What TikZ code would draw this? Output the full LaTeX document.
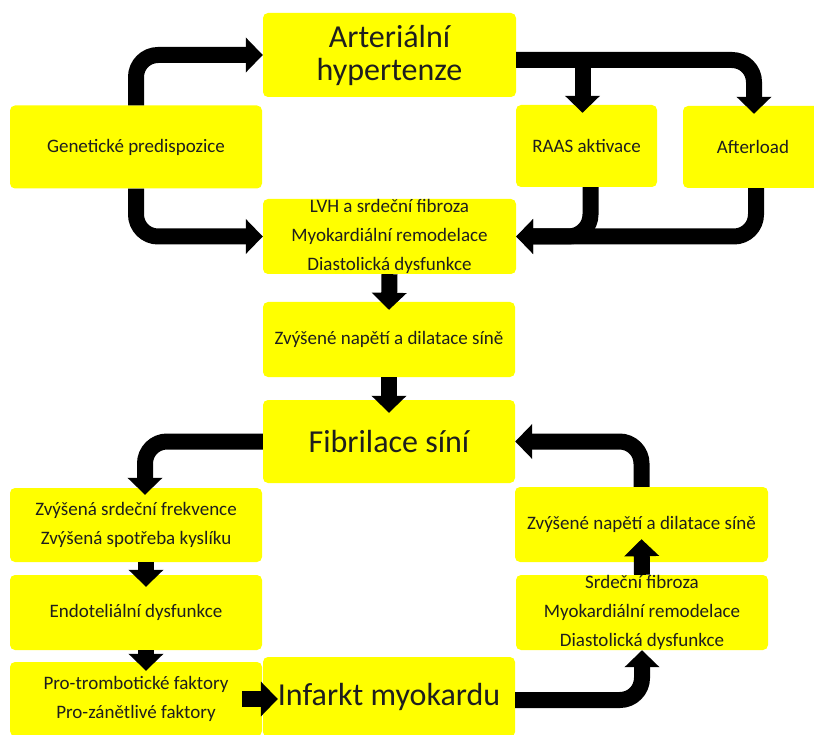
\documentclass[tikz,border=0pt]{standalone}
\usepackage{fontspec}
\setmainfont{Carlito}
\usepackage{xcolor}
\usetikzlibrary{positioning, arrows.meta}
\definecolor{boxyellow}{HTML}{FFFF00}
\definecolor{inktext}{HTML}{1E1E1E}

\begin{document}
\begin{tikzpicture}[x=1pt, y=-1pt,
  every node/.style={inner sep=0pt},
  box/.style={fill=boxyellow, rounded corners=5pt, align=center,
              text=inktext, font=\fontsize{19}{29}\selectfont},
  bigbox/.style={box, font=\fontsize{32}{33}\selectfont},
  flow/.style={line width=16pt, black, rounded corners=22pt,
               -{Triangle[width=34pt, length=17pt]}}]
\useasboundingbox (0,0) rectangle (814,735);

% upper part
\node[bigbox, minimum width=253pt, minimum height=84pt] (hyp) at (389.5,55)
  {Arteriální\\hypertenze};
\node[box, minimum width=252pt, minimum height=83pt] (gen) at (136,147)
  {Genetické predispozice};
\node[box, minimum width=141pt, minimum height=82pt] (raas) at (586.5,146)
  {RAAS aktivace};
\node[box, minimum width=140pt, minimum height=82pt] (after) at (753,147)
  {Afterload};
\node[box, minimum width=253pt, minimum height=75pt] (lvh) at (389.5,236.5)
  {LVH a srdeční fibroza\\Myokardiální remodelace\\Diastolická dysfunkce};
\node[box, minimum width=252pt, minimum height=75pt] (ten1) at (389,339.5)
  {Zvýšené napětí a dilatace síně};
\node[bigbox, minimum width=252pt, minimum height=83pt] (af) at (389,441.5)
  {Fibrilace síní};

% lower left
\node[box, minimum width=252pt, minimum height=74pt] (hr) at (136,525)
  {Zvýšená srdeční frekvence\\Zvýšená spotřeba kyslíku};
\node[box, minimum width=252pt, minimum height=75pt] (endo) at (136,612.5)
  {Endoteliální dysfunkce};
\node[box, minimum width=252pt, minimum height=74pt] (pro) at (136,699)
  {Pro-trombotické faktory\\Pro-zánětlivé faktory};
\node[bigbox, minimum width=252pt, minimum height=80pt] (inf) at (389,697)
  {Infarkt myokardu};

% lower right
\node[box, minimum width=253pt, minimum height=75pt] (ten2) at (641.5,524.5)
  {Zvýšené napětí a dilatace síně};
\node[box, minimum width=252pt, minimum height=75pt] (fib) at (642,612.5)
  {Srdeční fibroza\\Myokardiální remodelace\\Diastolická dysfunkce};

% arrows
\draw[flow] (gen.north) |- (hyp.west);
\draw[flow] (gen.south) |- (lvh.west);
\draw[flow] ([yshift=-5pt]hyp.east) -| ([xshift=1pt,yshift=-8pt]after.north);
\draw[flow] ([xshift=-4pt]raas.north |- hyp.east)
  -- ([xshift=-4pt,yshift=-8pt]raas.north);
\draw[flow] ([xshift=4pt]raas.south) |- (lvh.east);
\draw[flow] ([xshift=3pt]after.south) |- (lvh.east);
\draw[flow] (lvh.south) -- ([yshift=-8pt]ten1.north);
\draw[flow] (ten1.south) -- ([yshift=-13pt]af.north);
\draw[flow] (af.west) -| ([xshift=9pt,yshift=-7pt]hr.north);
\draw[flow] ([xshift=10pt]hr.south) -- ([xshift=10pt,yshift=-12pt]endo.north);
\draw[flow] ([xshift=10pt]endo.south) -- ([xshift=10pt,yshift=-9pt]pro.north);
\draw[flow] ([xshift=-20pt]pro.east) -- ([xshift=15pt]pro.east -| inf.west);
\draw[flow] ([yshift=-3pt]inf.east) -| (fib.south);
\draw[flow] (fib.north) -- ([yshift=23pt]ten2.south);
\draw[flow] (ten2.north) |- (af.east);
\end{tikzpicture}
\end{document}
